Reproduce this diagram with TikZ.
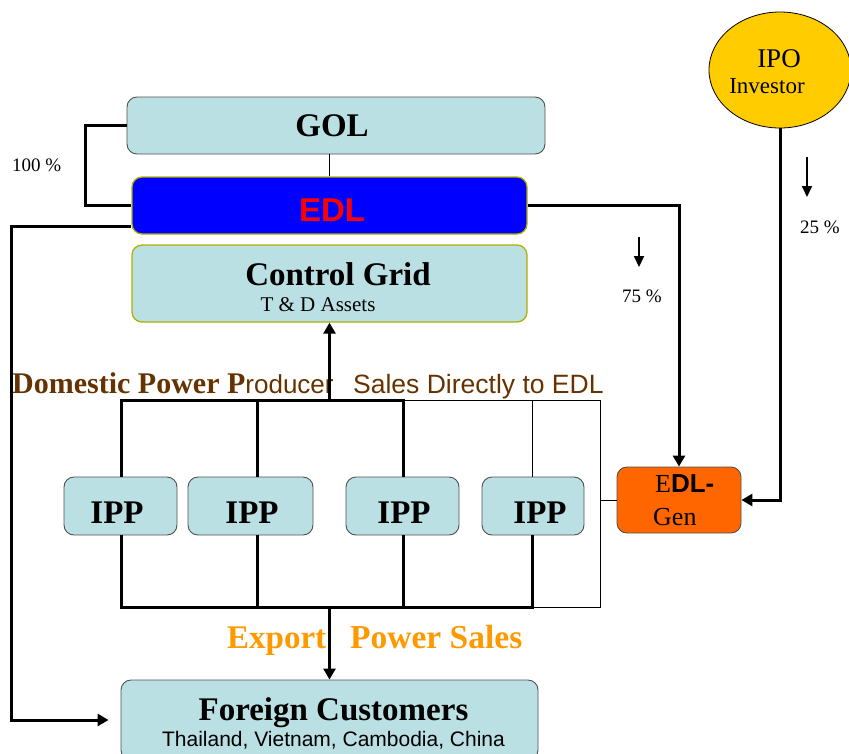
\documentclass[tikz,border=0pt]{standalone}
\usepackage{fontspec}
\setmainfont{Liberation Serif}
\setsansfont{Liberation Sans}
\usetikzlibrary{arrows.meta,shapes.geometric}
\definecolor{boxblue}{HTML}{BBE0E3}
\definecolor{boxline}{HTML}{505050}
\definecolor{olive}{HTML}{B0B000}
\definecolor{edlblue}{HTML}{0000FF}
\definecolor{edlred}{HTML}{FF0000}
\definecolor{brown}{HTML}{663300}
\definecolor{exporange}{HTML}{FF9900}
\definecolor{genorange}{HTML}{FF6600}
\definecolor{ipoyellow}{HTML}{FFCC00}
\begin{document}
\begin{tikzpicture}[x=1pt,y=-1pt,
  box/.style={draw=boxline,fill=boxblue,rounded corners=10pt,line width=0.9pt,inner sep=0pt},
  olivebox/.style={draw=olive,rounded corners=10pt,line width=1.3pt,inner sep=0pt},
  big/.style={font=\fontsize{33}{36}\selectfont\bfseries},
  thick line/.style={line width=3pt},
  thin line/.style={line width=1pt},
  conn/.style={line width=3pt,-{Triangle[width=12pt,length=11pt]}},
  small arrow/.style={line width=2pt,-{Triangle[width=10pt,length=11pt]}},
  pct/.style={font=\fontsize{19}{21}\selectfont,anchor=base west,inner sep=0pt}
]
\path[use as bounding box] (0,0) rectangle (849,753);
\clip (0,0) rectangle (849,753);

% boxes
\node[box,minimum width=418pt,minimum height=57pt] (GOL) at (336,125.5) {};
\node[big,anchor=base] (GOLt) at (332,136) {GOL};
\node[olivebox,fill=edlblue,minimum width=395pt,minimum height=57pt] (EDL) at (329.5,205.5) {};
\node[font=\fontsize{33}{36}\selectfont\sffamily\bfseries,text=edlred,anchor=base] (EDLt) at (332,221) {EDL};
\node[olivebox,fill=boxblue,minimum width=395pt,minimum height=77pt] (CG) at (329.5,283.5) {};
\node[big,anchor=base,inner sep=0pt] (CGt) at (338,285) {Control Grid};
\node[font=\fontsize{21}{23}\selectfont,anchor=base,inner sep=0pt] (CGs) at (318,311) {T \& D Assets};

\node[box,minimum width=113pt,minimum height=58pt] (IPP1) at (120.5,506) {};
\node[box,minimum width=125pt,minimum height=58pt] (IPP2) at (250.5,506) {};
\node[box,minimum width=113pt,minimum height=58pt] (IPP3) at (402.5,506) {};
\node[box,minimum width=102pt,minimum height=58pt] (IPP4) at (533,506) {};
\node[big,anchor=base] (IPP1t) at (117,523) {IPP};
\node[big,anchor=base] (IPP2t) at (252,523) {IPP};
\node[big,anchor=base] (IPP3t) at (404,523) {IPP};
\node[big,anchor=base] (IPP4t) at (540,523) {IPP};

\node[draw=boxline,fill=genorange,rounded corners=10pt,line width=0.9pt,inner sep=0pt,
      minimum width=124pt,minimum height=66pt] (GEN) at (679,500) {};
\node[font=\fontsize{26}{28}\selectfont,anchor=base west,inner sep=0pt] (GEN1) at (655,492) {E{\sffamily\bfseries DL-}};
\node[font=\fontsize{26}{28}\selectfont,anchor=base west,inner sep=0pt] (GEN2) at (653,525) {Gen};

\node[box,minimum width=417pt,minimum height=80pt] (FC) at (329.5,720) {};
\node[big,anchor=base] (FCt) at (333.5,720) {Foreign Customers};
\node[font=\fontsize{21}{23}\selectfont\sffamily,anchor=base] (FCs) at (333.5,746) {Thailand, Vietnam, Cambodia, China};

\node[ellipse,draw=black,fill=ipoyellow,line width=0.8pt,minimum width=142pt,minimum height=116pt,inner sep=0pt] (IPO) at (780,70) {};
\node[font=\fontsize{27}{29}\selectfont,anchor=base] (IPOt) at (779,67) {IPO};
\node[font=\fontsize{23}{25}\selectfont,anchor=base] (IPOs) at (767,93) {Investor};

% labels
\node[font=\fontsize{30}{32}\selectfont,text=brown,anchor=base west,inner sep=0pt] (DPP) at (12,393)
  {\bfseries Domestic Power P\mdseries\sffamily\fontsize{26}{28}\selectfont roducer};
\node[font=\fontsize{26.5}{28}\selectfont\sffamily,text=brown,anchor=base west,inner sep=0pt] (SDE) at (353,393) {Sales Directly to EDL};
\node[font=\fontsize{33}{35}\selectfont\bfseries,text=exporange,anchor=base west,inner sep=0pt] (EXP) at (227,648) {Export};
\node[font=\fontsize{33.5}{35}\selectfont\bfseries,text=exporange,anchor=base west,inner sep=0pt] (PS) at (350,648) {Power Sales};
\node[pct] (P100) at (12,171) {100 \%};
\node[pct] (P75) at (622,302) {75 \%};
\node[pct] (P25) at (800,233) {25 \%};

% bus coordinates
\coordinate (t1) at (121.5,400); \coordinate (t2) at (257,400);
\coordinate (t3) at (403,400);   \coordinate (t4) at (532.5,400);
\coordinate (t5) at (600,400);
\coordinate (b1) at (121.5,607); \coordinate (b2) at (257,607);
\coordinate (b3) at (403,607);   \coordinate (b4) at (532.5,607);
\coordinate (b5) at (600,607);
\coordinate (tc) at (329.5,400); \coordinate (bc) at (329.5,607);

% bus lines
\draw[thick line,line cap=rect] (t1) -- (t3);
\draw[thin line] (t3) -- (t5) -- (b5) -- (b4);
\draw[thick line,line cap=rect] (b1) -- (b4);
\draw[thick line] (t1) -- (t1 |- IPP1.north);
\draw[thick line] (t2) -- (t2 |- IPP2.north);
\draw[thick line] (t3) -- (t3 |- IPP3.north);
\draw[thin line] (t4) -- (t4 |- IPP4.north);
\draw[thick line] (b1) -- (b1 |- IPP1.south);
\draw[thick line] (b2) -- (b2 |- IPP2.south);
\draw[thick line] (b3) -- (b3 |- IPP3.south);
\draw[thick line] (b4) -- (b4 |- IPP4.south);
\draw[thin line] (b5 |- GEN.west) -- (GEN.west);

% connectors
\draw[conn] (tc) -- (CG.south);
\draw[conn] (bc) -- (FC.north);
\draw[line width=0.8pt] (EDL.north) -- (EDL.north |- GOL.south);
\draw[thick line] (GOL.west) -| (85,165) |- (EDL.west);
\draw[conn,shorten >=12pt] ([yshift=-20.5pt]EDL.west) -- (11,226) |- (FC.west);
\draw[conn] (EDL.east) -| (GEN.north);
\draw[conn] (IPO.south) |- (GEN.east);

% small arrows
\coordinate (a75s) at (639,237); \coordinate (a75e) at (639,267);
\coordinate (a25s) at (807,157); \coordinate (a25e) at (807,197);
\draw[small arrow] (a75s) -- (a75e);
\draw[small arrow] (a25s) -- (a25e);
\end{tikzpicture}
\end{document}
